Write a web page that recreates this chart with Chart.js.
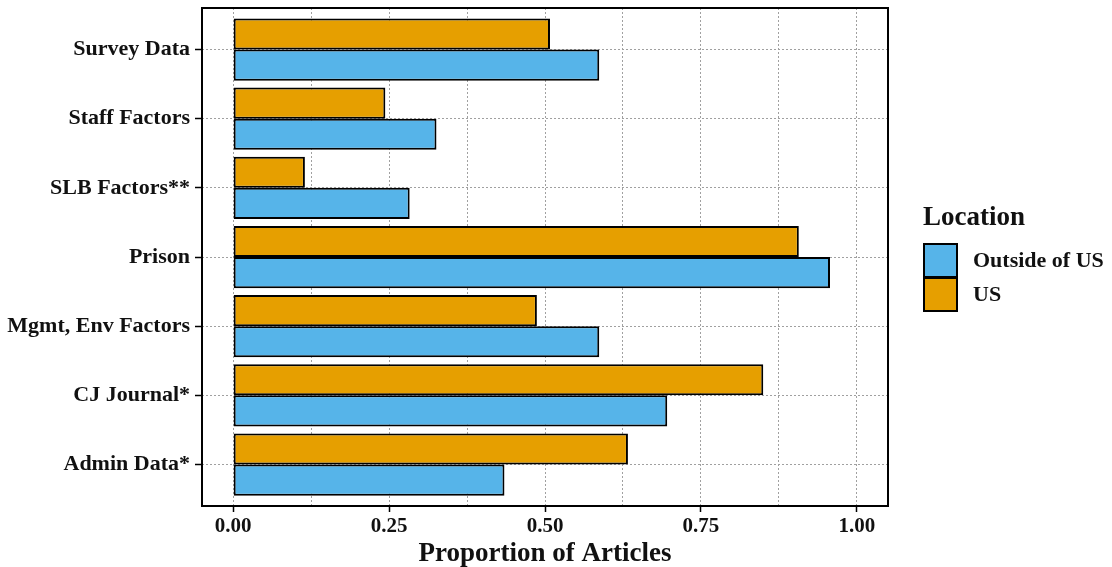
<!DOCTYPE html>
<html>
<head>
<meta charset="utf-8">
<script src="https://cdn.jsdelivr.net/npm/chart.js@4"></script>
<style>
  html, body { margin: 0; padding: 0; background: #fff; }
  #wrap { position: relative; width: 1112px; height: 567px; }
  #legend { position: absolute; left: 923px; top: 199px; font-family: 'Liberation Serif', 'Times New Roman', serif; font-weight: bold; color: #111; }
  #legend .ttl { font-size: 27px; line-height: 34px; margin-bottom: 10px; }
  #legend .row { display: flex; align-items: center; height: 34px; font-size: 22px; }
  #legend .box { width: 31px; height: 31px; border: 2px solid #000; margin-right: 15px; }
</style>
</head>
<body>
<div id="wrap">
  <canvas id="c" width="1112" height="567"></canvas>
  <div id="legend"></div>
</div>
<script>
// categories, top to bottom
const categories = ['Survey Data', 'Staff Factors', 'SLB Factors**', 'Prison', 'Mgmt, Env Factors', 'CJ Journal*', 'Admin Data*'];
const usVals      = [0.508, 0.244, 0.115, 0.907, 0.487, 0.850, 0.633];
const outsideVals = [0.587, 0.326, 0.283, 0.957, 0.587, 0.696, 0.435];
const xTicks      = [0, 0.25, 0.5, 0.75, 1.0];
const xTickLabels = ['0.00', '0.25', '0.50', '0.75', '1.00'];
const xMinor      = [0.125, 0.375, 0.625, 0.875];

const F = "'Liberation Serif','Times New Roman',serif";
const BLUE = '#56B4E9', ORANGE = '#E69F00';
const GRID = '#a0a0a0';

const legendItems = [['Outside of US', BLUE], ['US', ORANGE]];
const lg = document.getElementById('legend');
lg.innerHTML = '<div class="ttl">Location</div>' + legendItems.map(([t, c]) =>
  `<div class="row"><div class="box" style="background:${c}"></div>${t}</div>`).join('');

const panelBorder = {
  id: 'panelBorder',
  afterDraw(chart) {
    const { ctx, chartArea: a } = chart;
    ctx.save();
    ctx.strokeStyle = '#000';
    ctx.lineWidth = 2;
    ctx.strokeRect(a.left, a.top, a.right - a.left, a.bottom - a.top);
    ctx.restore();
  }
};

new Chart(document.getElementById('c'), {
  type: 'bar',
  data: {
    datasets: [
      { label: 'US', data: usVals.map((v, i) => ({ x: v, y: i })), backgroundColor: ORANGE, borderColor: '#000', borderWidth: 2, borderSkipped: false },
      { label: 'Outside of US', data: outsideVals.map((v, i) => ({ x: v, y: i })), backgroundColor: BLUE, borderColor: '#000', borderWidth: 2, borderSkipped: false }
    ]
  },
  options: {
    responsive: false, animation: false, indexAxis: 'y',
    layout: { padding: { top: 8, right: 224, left: 0, bottom: 0 } },
    datasets: { bar: { categoryPercentage: 0.9, barPercentage: 1.0 } },
    plugins: { legend: { display: false }, tooltip: { enabled: false } },
    scales: {
      x: {
        type: 'linear', min: -0.05, max: 1.05, offset: false,
        afterBuildTicks: s => { s.ticks = [...xTicks, ...xMinor].sort((a, b) => a - b).map(v => ({ value: v })); },
        afterFit: s => { s.height = 61; s.paddingLeft = 0; s.paddingRight = 0; },
        border: { display: false, dash: [2, 2] },
        grid: {
          color: GRID, lineWidth: 1, tickLength: 6, offset: false,
          tickColor: c => xTicks.includes(c.tick.value) ? '#000' : 'rgba(0,0,0,0)',
          tickWidth: 1.5, tickBorderDash: []
        },
        ticks: {
          color: '#111', padding: 2, maxRotation: 0, autoSkip: false,
          font: { family: F, size: 21, weight: 'bold' },
          callback: v => { const i = xTicks.indexOf(v); return i < 0 ? '' : xTickLabels[i]; }
        },
        title: { display: true, text: 'Proportion of Articles', color: '#111', padding: { top: 0, bottom: 0 },
                 font: { family: F, size: 27, weight: 'bold', lineHeight: 0.95 } }
      },
      y: {
        type: 'linear', min: -0.6, max: 6.6, reverse: true, offset: false,
        afterBuildTicks: s => { s.ticks = categories.map((_, i) => ({ value: i })); },
        afterFit: s => { s.width = 202; s.paddingTop = 0; s.paddingBottom = 0; },
        border: { display: false, dash: [2, 2] },
        grid: { color: GRID, lineWidth: 1, offset: false, tickLength: 7, tickColor: '#000', tickWidth: 1.5, tickBorderDash: [] },
        ticks: {
          color: '#111', padding: 5, autoSkip: false,
          font: { family: F, size: 22, weight: 'bold' },
          callback: v => categories[v] ?? ''
        }
      }
    }
  },
  plugins: [panelBorder]
});
</script>
</body>
</html>
